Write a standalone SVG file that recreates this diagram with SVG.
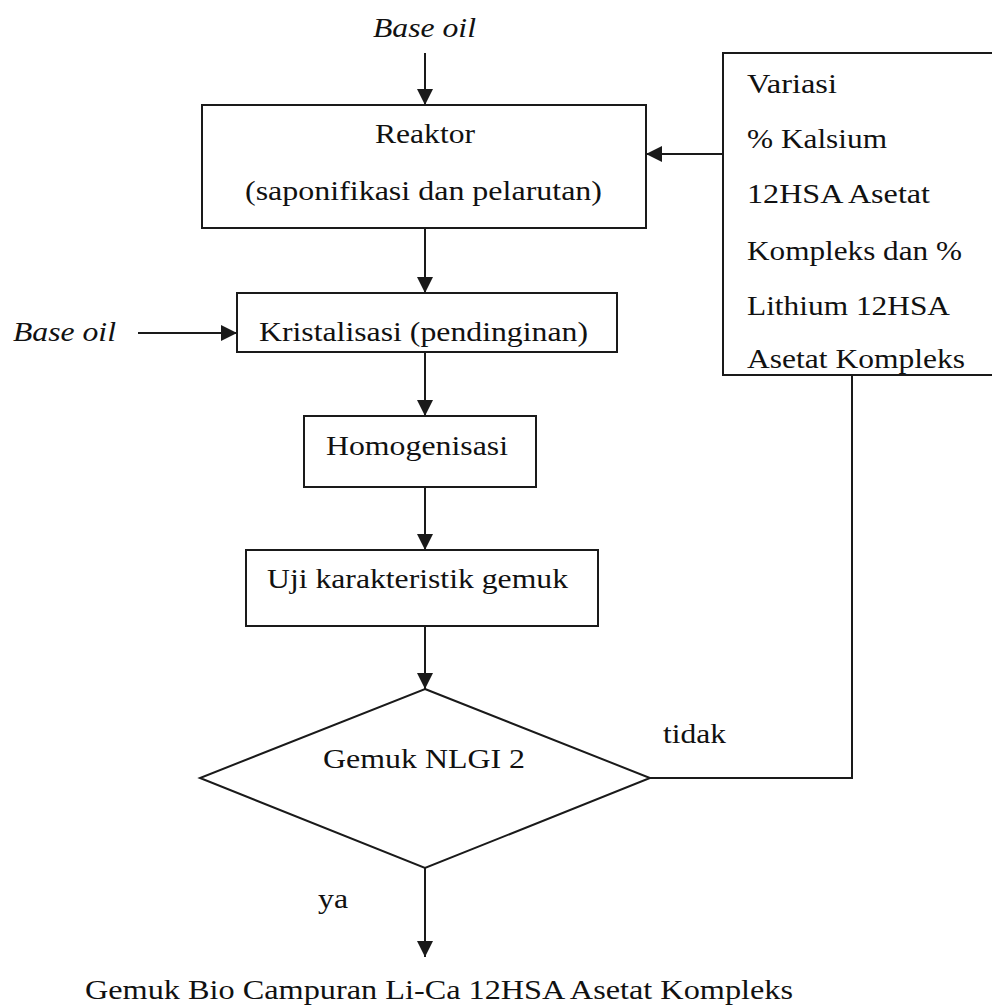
<svg xmlns="http://www.w3.org/2000/svg" width="992" height="1005" viewBox="0 0 992 1005">
<defs>
<marker id="ah" markerUnits="userSpaceOnUse" markerWidth="16" markerHeight="16" refX="16" refY="8" orient="auto">
<path d="M0,0 L16,8 L0,16 z" fill="#1a1a1a"/>
</marker>
<style>
.box{fill:none;stroke:#1a1a1a;stroke-width:2}
.ln{fill:none;stroke:#1a1a1a;stroke-width:2}
.t{font-family:'Liberation Serif','Times New Roman',Times,serif;font-size:27px;fill:#111}
.i{font-style:italic}
</style>
</defs>
<rect width="992" height="1005" fill="#ffffff"/>
<g id="connectors">
<line class="ln" x1="425" y1="53" x2="425" y2="105" marker-end="url(#ah)"/>
<line class="ln" x1="723" y1="154" x2="646" y2="154" marker-end="url(#ah)"/>
<line class="ln" x1="425" y1="228" x2="425" y2="293" marker-end="url(#ah)"/>
<line class="ln" x1="138" y1="333" x2="237" y2="333" marker-end="url(#ah)"/>
<line class="ln" x1="425" y1="352" x2="425" y2="416" marker-end="url(#ah)"/>
<line class="ln" x1="425" y1="487" x2="425" y2="550" marker-end="url(#ah)"/>
<line class="ln" x1="425" y1="626" x2="425" y2="689" marker-end="url(#ah)"/>
<polyline class="ln" points="650,778 852,778 852,375"/>
<line class="ln" x1="425" y1="868" x2="425" y2="957" marker-end="url(#ah)"/>
<text class="t" font-family="Liberation Serif" x="663" y="743" textLength="63" lengthAdjust="spacingAndGlyphs">tidak</text>
<text class="t" font-family="Liberation Serif" x="318" y="908" textLength="30" lengthAdjust="spacingAndGlyphs">ya</text>
</g>
<g id="input-top">
<text class="t i" x="373" y="37" textLength="103" lengthAdjust="spacingAndGlyphs">Base oil</text>
</g>
<g id="reaktor">
<rect class="box" x="202" y="105" width="444" height="123"/>
<text class="t" x="375" y="143" textLength="100" lengthAdjust="spacingAndGlyphs">Reaktor</text>
<text class="t" x="245" y="200" textLength="357" lengthAdjust="spacingAndGlyphs">(saponifikasi dan pelarutan)</text>
</g>
<g id="variasi">
<rect class="box" x="723" y="53" width="285" height="322"/>
<text class="t" x="747" y="93" textLength="90" lengthAdjust="spacingAndGlyphs">Variasi</text>
<text class="t" x="747" y="148" textLength="140" lengthAdjust="spacingAndGlyphs">% Kalsium</text>
<text class="t" x="747" y="203" textLength="183" lengthAdjust="spacingAndGlyphs">12HSA Asetat</text>
<text class="t" x="747" y="260" textLength="215" lengthAdjust="spacingAndGlyphs">Kompleks dan %</text>
<text class="t" x="747" y="315" textLength="203" lengthAdjust="spacingAndGlyphs">Lithium 12HSA</text>
<text class="t" x="747" y="368" textLength="218" lengthAdjust="spacingAndGlyphs">Asetat Kompleks</text>
</g>
<g id="input-left">
<text class="t i" x="13" y="341" textLength="103" lengthAdjust="spacingAndGlyphs">Base oil</text>
</g>
<g id="kristalisasi">
<rect class="box" x="237" y="293" width="380" height="59"/>
<text class="t" x="259" y="341" textLength="329" lengthAdjust="spacingAndGlyphs">Kristalisasi (pendinginan)</text>
</g>
<g id="homogenisasi">
<rect class="box" x="304" y="416" width="232" height="71"/>
<text class="t" x="326" y="455" textLength="182" lengthAdjust="spacingAndGlyphs">Homogenisasi</text>
</g>
<g id="uji">
<rect class="box" x="246" y="550" width="352" height="76"/>
<text class="t" x="267" y="588" textLength="301" lengthAdjust="spacingAndGlyphs">Uji karakteristik gemuk</text>
</g>
<g id="keputusan">
<polygon class="box" points="425,689 650,778 425,868 200,778"/>
<text class="t" x="323" y="768" textLength="202" lengthAdjust="spacingAndGlyphs">Gemuk NLGI 2</text>
</g>
<g id="hasil">
<text class="t" x="85" y="999" textLength="708" lengthAdjust="spacingAndGlyphs">Gemuk Bio Campuran Li-Ca 12HSA Asetat Kompleks</text>
</g>
</svg>
